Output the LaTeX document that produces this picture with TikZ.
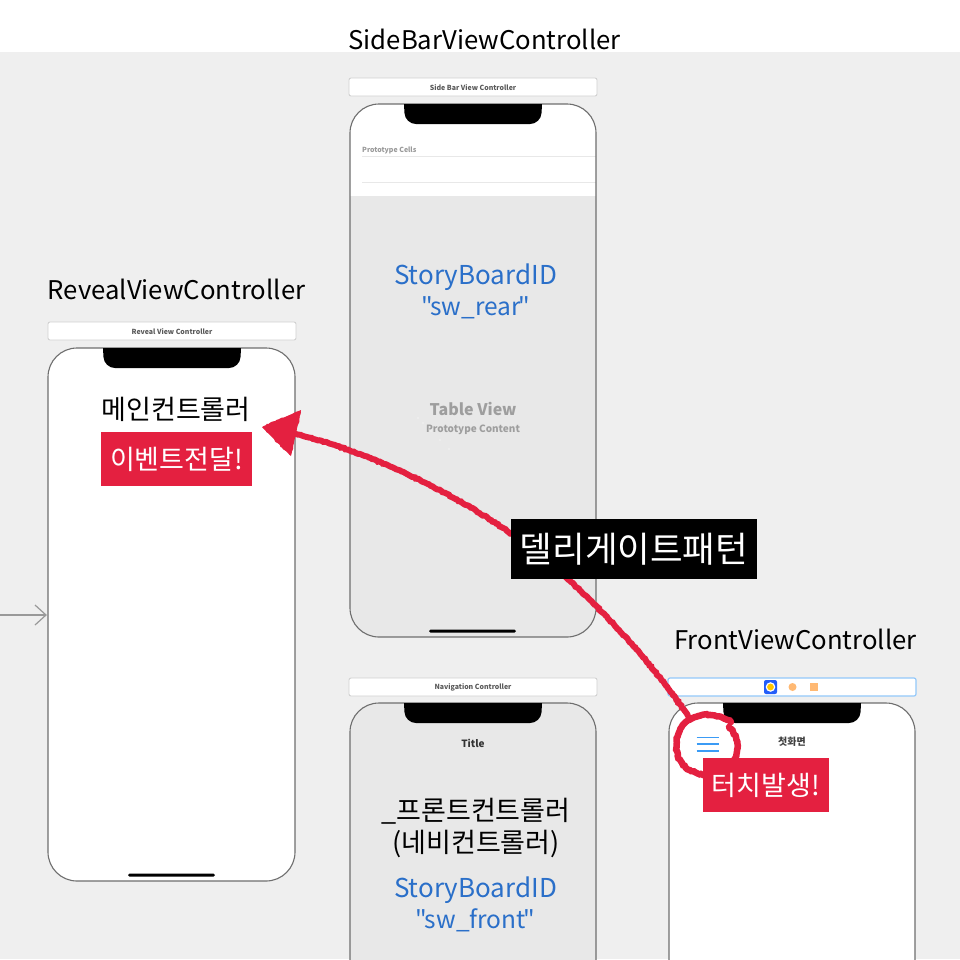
\documentclass[tikz,border=0pt]{standalone}
\usepackage{fontspec}
\setmainfont{Noto Sans CJK KR}[Ligatures=TeXOff]
\usetikzlibrary{decorations.pathmorphing,arrows.meta}
\definecolor{canvas}{HTML}{EFEFEF}
\definecolor{scene}{HTML}{E8E8E8}
\definecolor{rosso}{HTML}{E42040}
\definecolor{sbblue}{HTML}{2A6FC9}
\definecolor{frameedge}{HTML}{6E6E6E}
\definecolor{tabblue}{HTML}{3B9BF5}
\tikzset{
  title/.style={font=\fontsize{25.7}{30}\selectfont,text=black,inner sep=0pt,anchor=center},
  idtext/.style={font=\fontsize{26}{31}\selectfont,text=sbblue,inner sep=0pt,align=center},
  kor/.style={font=\fontsize{27}{32}\selectfont,text=black,inner sep=0pt,align=center},
  redbox/.style={fill=rosso,text=white,font=\fontsize{27}{30}\selectfont,inner sep=0pt,anchor=center},
  headerbar/.style={draw=black!18,fill=white,rounded corners=2pt,line width=.9pt},
  tiny/.style={font=\fontsize{7}{8}\selectfont\bfseries,text=black!65,inner sep=0pt},
  phone/.style={draw=frameedge,line width=1.1pt,rounded corners=29pt,outer sep=0pt},
  rough/.style={draw=rosso,line width=6pt,decorate,decoration={random steps,segment length=2pt,amplitude=.6pt},line cap=round},
}
\newcommand{\notchat}[2]{% left x, top y
  \fill[black] (#1,#2) [rounded corners=11pt] -- (#1+1,#2+20) -- (#1+137,#2+20) [sharp corners] -- (#1+138,#2) -- cycle;}
\newcommand{\quoted}[1]{{\fontsize{24.5}{31}\selectfont"\kern-2.5pt #1\kern-2.5pt"}}
\begin{document}
\begin{tikzpicture}[x=1pt,y=-1pt]
\useasboundingbox (0,0) rectangle (960,959);
\fill[white] (0,0) rectangle (960,52);
\fill[canvas] (0,52) rectangle (960,959);

% Reveal view controller
\node[title] (revealtitle) at (176.5,289.5) {RevealViewController};
\draw[headerbar] (48,322) rectangle (296,340);
\node[tiny] (revealhead) at (172,331.5) {Reveal View Controller};
\fill[white,rounded corners=29pt] (48,348) rectangle (295,881);
\node[phone,minimum width=247pt,minimum height=533pt,inner sep=0pt,anchor=north west] (revealphone) at (48,348) {};
\notchat{103}{348}
\fill[black,rounded corners=1.5pt] (128,873.5) rectangle (215,876.5);
\node[kor] (maincontrol) at (176,409) {메인컨트롤러};
\node[redbox,minimum width=151pt,minimum height=54pt] (eventbox) at (176.5,459) {이벤트전달!};

% Side bar view controller
\node[title] (sidetitle) at (484.5,39.5) {SideBarViewController};
\draw[headerbar] (349,78) rectangle (597,96);
\node[tiny] (sidehead) at (473,87.5) {Side Bar View Controller};
\begin{scope}
\clip[rounded corners=29pt] (350,104) rectangle (596,637);
\fill[scene] (350,104) rectangle (596,637);
\fill[white] (350,104) rectangle (596,196);
\draw[black!9,line width=.8pt] (362,156.5) -- (596,156.5);
\draw[black!9,line width=.8pt] (362,182) -- (596,182);
\end{scope}
\node[phone,minimum width=246pt,minimum height=533pt,inner sep=0pt,anchor=north west] (sidephone) at (350,104) {};
\notchat{404}{104}
\fill[black,rounded corners=1.5pt] (429,629.5) rectangle (516,632.5);
\node[font=\fontsize{7}{8}\selectfont\bfseries,text=black!40,inner sep=0pt,anchor=west] (protocells) at (362,150.5) {Prototype Cells};
\node[idtext] (rearid) at (475.5,291) {StoryBoardID\\\quoted{sw\_rear}};
\node[font=\fontsize{16}{20}\selectfont\bfseries,text=black!38,inner sep=0pt] (tableview) at (473,408.5) {Table View};
\node[font=\fontsize{10}{12}\selectfont\bfseries,text=black!38,inner sep=0pt] (protocontent) at (473,429.5) {Prototype Content};

% Navigation controller
\draw[headerbar] (349,678) rectangle (597,696);
\node[tiny] (navhead) at (473,687) {Navigation Controller};
\begin{scope}
\clip (340,697) rectangle (606,959);
\draw[phone,fill=scene] (350,703) rectangle (596,1236);
\end{scope}
\coordinate (navphone) at (473,703);
\notchat{404}{703}
\node[font=\fontsize{10}{12}\selectfont\bfseries,text=black!80,inner sep=0pt] (navtitle) at (473,743) {Title};
\node[kor] (frontcontrol) at (476,828) {\_프론트컨트롤러\\(네비컨트롤러)};
\node[idtext] (frontid) at (475.5,904) {StoryBoardID\\\quoted{sw\_front}};

% Front view controller
\node[title] (fronttitle) at (795.5,639.5) {FrontViewController};
\draw[draw=tabblue!55,fill=white,rounded corners=2pt,line width=1.2pt] (668,678) rectangle (916,696);
\fill[tabblue!60!blue,rounded corners=2pt] (764,680) rectangle (777,694);
\fill[white] (770.5,687) circle (4.8pt);
\fill[orange!45!yellow] (770.5,687) circle (3.4pt);
\fill[orange!55] (792.5,687) circle (4pt);
\fill[orange!55] (810,683) rectangle (818,691);
\begin{scope}
\clip (660,700) rectangle (926,959);
\draw[phone,fill=white] (669,703) rectangle (915,1236);
\end{scope}
\coordinate (frontphone) at (792,703);
\notchat{723}{703}
\node[font=\fontsize{10}{12}\selectfont\bfseries,text=black!75,inner sep=0pt] (firstscreen) at (792,742) {첫화면};
\foreach \yy in {737.5,744,751}
  \draw[tabblue,line width=1.2pt] (696.5,\yy) -- (719,\yy);
\coordinate (menuicon) at (688,716);
\coordinate (midcurve) at (503,528);
\coordinate (arrowend) at (296,434);
\coordinate (entry) at (0,615);

% Left entry arrow
\draw[black!40,line width=1.2pt] (entry) -- (46,615);
\draw[black!40,line width=1.2pt] (35,605) -- (46,615) -- (35,625);

% Hand drawn marks
\draw[rough,line width=6.5pt] (731,722) .. controls (716,712) and (695,712) .. (684,724)
  .. controls (672,738) and (674,762) .. (690,770)
  .. controls (700,775) and (712,778) .. (722,772)
  .. controls (740,762) and (742,740) .. (729,727);
\draw[rough] (menuicon) .. controls (650,660) and (580,580) .. (midcurve)
  .. controls (450,492) and (370,452) .. (arrowend);
\fill[rosso] (262,427) -- (301,410) -- (291,456) -- cycle;
\draw[rosso,line width=2pt,line join=round,decorate,decoration={random steps,segment length=2pt,amplitude=1pt}] (264,427) -- (300,412) -- (290,454) -- cycle;
\foreach \px/\py in {281,431, 290,429, 279,423, 288,449, 294,418, 285,440}
  \fill[white] (\px,\py) circle (.6pt);

\node[redbox,minimum width=126pt,minimum height=54pt] (touchbox) at (766,785) {터치발생!};
\node[fill=black,text=white,font=\fontsize{35.5}{40}\selectfont,inner sep=0pt,minimum width=246pt,minimum height=60pt] (delegatebox) at (634,549) {델리게이트패턴};
\end{tikzpicture}
\end{document}
